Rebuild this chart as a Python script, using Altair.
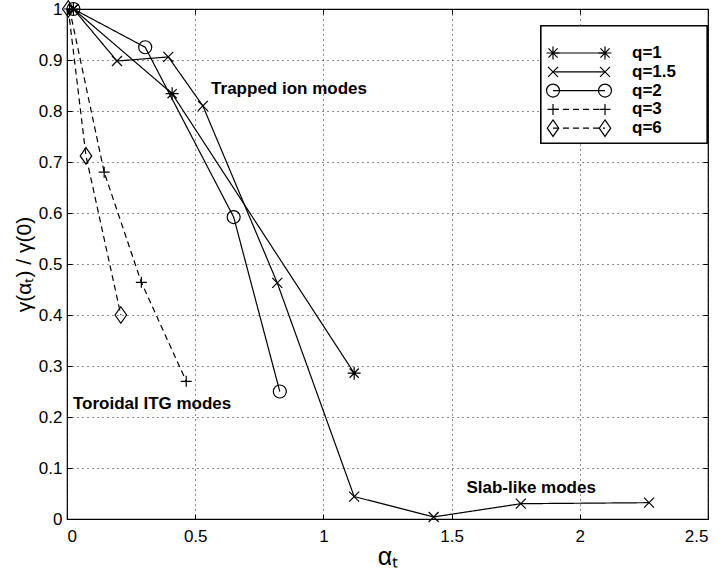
import altair as alt
import pandas as pd

# ---------------- data ----------------
series_names = ["q=1", "q=1.5", "q=2", "q=3", "q=6"]

x_q1 = [0.025, 0.41, 1.12]
y_q1 = [1.0, 0.834, 0.286]

x_q15 = [0.025, 0.195, 0.395, 0.53, 0.82, 1.12, 1.43, 1.77, 2.27]
y_q15 = [1.0, 0.898, 0.906, 0.81, 0.463, 0.044, 0.004, 0.030, 0.032]

x_q2 = [0.025, 0.305, 0.65, 0.83]
y_q2 = [1.0, 0.925, 0.592, 0.25]

x_q3 = [0.01, 0.145, 0.29, 0.465]
y_q3 = [1.0, 0.68, 0.464, 0.27]

x_q6 = [0.005, 0.074, 0.21]
y_q6 = [1.0, 0.712, 0.40]

note_texts = ["Trapped ion modes", "Toroidal ITG modes", "Slab-like modes"]
note_x = [0.562, 0.023, 1.558]
note_y = [0.843, 0.225, 0.061]

x_ticks = [0, 0.5, 1, 1.5, 2, 2.5]
y_ticks = [0, 0.1, 0.2, 0.3, 0.4, 0.5, 0.6, 0.7, 0.8, 0.9, 1]

# ---------------- tables ----------------
xs = [x_q1, x_q15, x_q2, x_q3, x_q6]
ys = [y_q1, y_q15, y_q2, y_q3, y_q6]
rows = []
for name, xv, yv in zip(series_names, xs, ys):
    for i, (a, b) in enumerate(zip(xv, yv)):
        rows.append({"q": name, "x": a, "y": b, "i": i})
df = pd.DataFrame(rows)

notes = pd.DataFrame({"t": note_texts, "x": note_x, "y": note_y})

# legend rows (layout computed, not data)
leg = pd.DataFrame({"q": series_names,
                    "ly": [44 + 18.8 * k for k in range(len(series_names))]})

# ---------------- styles ----------------
FONT = "Liberation Sans"
MSIZE = 100  # marker unit: path coordinate 1 == 5 px
asterisk = "M-1.3,0L1.3,0M0,-1.3L0,1.3M-0.92,-0.92L0.92,0.92M-0.92,0.92L0.92,-0.92"
xmark = "M-1,-1L1,1M-1,1L1,-1"
circle = "M1.3,0A1.3,1.3,0,1,1,-1.3,0A1.3,1.3,0,1,1,1.3,0Z"
plus = "M-1.1,0L1.1,0M0,-1.1L0,1.1"
diamond = "M0,-1.65L1.15,0L0,1.65L-1.15,0Z"

shape_scale = alt.Scale(domain=series_names,
                        range=[asterisk, xmark, circle, plus, diamond])
dash_scale = alt.Scale(domain=series_names,
                       range=[[1, 0], [1, 0], [1, 0], [6, 4], [6, 4]])

xsc = alt.Scale(domain=[0, 2.5], nice=False, zero=False)
ysc = alt.Scale(domain=[0, 1], nice=False, zero=False)

W, H = 641, 510

grid_x_axis = alt.Axis(values=x_ticks, format="~g", grid=True, gridDash=[1, 4],
                       gridColor="black", gridWidth=1, gridOpacity=0.9,
                       ticks=False, domain=False, labelPadding=9,
                       labelFontSize=17, labelFont=FONT, labelColor="black",
                       title="αₜ", titleFontSize=25, titleFont=FONT,
                       titleFontWeight="normal", titleColor="black",
                       titlePadding=0)
grid_y_axis = alt.Axis(values=y_ticks, format="~g", grid=True, gridDash=[1, 4],
                       gridColor="black", gridWidth=1, gridOpacity=0.9,
                       ticks=False, domain=False, labelPadding=5,
                       labelFontSize=17, labelFont=FONT, labelColor="black",
                       title="γ(αₜ) / γ(0)", titleFontSize=21, titleFont=FONT,
                       titleFontWeight="normal", titleColor="black",
                       titlePadding=4)

def tick_axis(values, orient, offset):
    return alt.Axis(values=values, orient=orient, offset=offset, grid=False,
                    labels=False, domain=False, ticks=True, tickSize=5,
                    tickColor="black", tickWidth=1, title=None)

base = alt.Chart(df)

lines = base.mark_line(color="black", strokeWidth=1.2).encode(
    x=alt.X("x:Q", scale=xsc, axis=grid_x_axis),
    y=alt.Y("y:Q", scale=ysc, axis=grid_y_axis),
    detail="q:N",
    order="i:Q",
    strokeDash=alt.StrokeDash("q:N", scale=dash_scale, legend=None),
)

points = base.mark_point(color="black", filled=False, strokeWidth=1.2,
                         opacity=1, size=MSIZE).encode(
    x=alt.X("x:Q", scale=xsc, axis=None),
    y=alt.Y("y:Q", scale=ysc, axis=None),
    shape=alt.Shape("q:N", scale=shape_scale, legend=None),
)

ticks_a = base.mark_point(opacity=0).encode(
    x=alt.X("x:Q", scale=xsc, axis=tick_axis(x_ticks, "top", -H)),
    y=alt.Y("y:Q", scale=ysc, axis=tick_axis(y_ticks, "right", -W)),
)
ticks_b = base.mark_point(opacity=0).encode(
    x=alt.X("x:Q", scale=xsc, axis=tick_axis(x_ticks, "bottom", -H)),
    y=alt.Y("y:Q", scale=ysc, axis=tick_axis(y_ticks, "left", -W)),
)

note_layer = alt.Chart(notes).mark_text(
    align="left", baseline="middle", font=FONT, fontSize=17,
    fontWeight="bold", color="black").encode(
    x=alt.X("x:Q", scale=xsc, axis=None),
    y=alt.Y("y:Q", scale=ysc, axis=None),
    text="t:N",
)

# ---- manual legend (MATLAB style, markers at both ends) ----
# pixel offsets relative to the plot area
LX0, LX1, LT = 486, 538, 565
leg_box = alt.Chart(leg).mark_rect(fill="white", stroke="black",
                                   strokeWidth=1.2).encode(
    x=alt.value(474), x2=alt.value(640),
    y=alt.value(17), y2=alt.value(134),
)
leg_base = alt.Chart(leg)
leg_lines = leg_base.mark_rule(color="black", strokeWidth=1.2).encode(
    x=alt.value(LX0), x2=alt.value(LX1),
    y=alt.Y("ly:Q", scale=None, axis=None),
    strokeDash=alt.StrokeDash("q:N", scale=dash_scale, legend=None),
)
leg_pts_l = leg_base.mark_point(color="black", filled=False,
                                strokeWidth=1.2, opacity=1,
                                size=MSIZE).encode(
    x=alt.value(LX0), y=alt.Y("ly:Q", scale=None, axis=None),
    shape=alt.Shape("q:N", scale=shape_scale, legend=None),
)
leg_pts_r = leg_base.mark_point(color="black", filled=False,
                                strokeWidth=1.2, opacity=1,
                                size=MSIZE).encode(
    x=alt.value(LX1), y=alt.Y("ly:Q", scale=None, axis=None),
    shape=alt.Shape("q:N", scale=shape_scale, legend=None),
)
leg_text = leg_base.mark_text(align="left", baseline="middle", font=FONT,
                              fontSize=17, fontWeight="bold",
                              color="black").encode(
    x=alt.value(LT), y=alt.Y("ly:Q", scale=None, axis=None),
    text="q:N",
)

chart = alt.layer(
    lines, points, ticks_a, ticks_b, note_layer,
    leg_box, leg_lines, leg_pts_l, leg_pts_r, leg_text
).resolve_axis(x="independent", y="independent").properties(
    width=W, height=H,
    autosize=alt.AutoSizeParams(type="none"),
    padding={"left": 67, "top": 9, "right": 14, "bottom": 55},
    background="white",
).configure_view(stroke="black", strokeWidth=1.2)

chart.save("out.html", embed_options={"renderer": "svg", "actions": False})
